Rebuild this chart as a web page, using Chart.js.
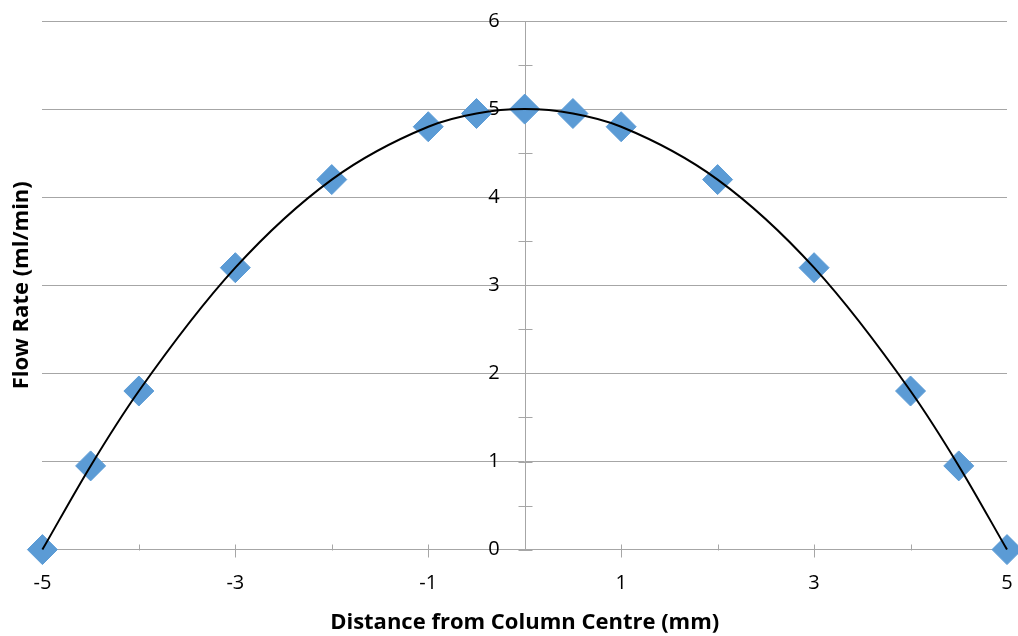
<!DOCTYPE html>
<html>
<head>
<meta charset="utf-8">
<script src="https://cdn.jsdelivr.net/npm/chart.js@4/dist/chart.umd.min.js"></script>
<style>
  html, body { margin: 0; padding: 0; background: #fff; }
  #wrap { width: 1018px; height: 636px; }
</style>
</head>
<body>
<div id="wrap"><canvas id="grafico"></canvas></div>
<script>
// Datos
const distancias = [-5, -4.5, -4, -3, -2, -1, -0.5, 0, 0.5, 1, 2, 3, 4, 4.5, 5];
const caudales = [0, 0.95, 1.8, 3.2, 4.2, 4.8, 4.95, 5, 4.95, 4.8, 4.2, 3.2, 1.8, 0.95, 0];
const ticksX = [-5, -3, -1, 1, 3, 5];
const ticksY = [0, 1, 2, 3, 4, 5, 6];

const puntos = distancias.map((x, i) => ({ x: x, y: caudales[i] }));

const GRIS = "#a6a6a6";
const FUENTE = "'Open Sans', sans-serif";

// Eje central y marcas de los ejes (antes de los datos)
const marcasMenores = {
  id: "marcasMenores",
  beforeDatasetsDraw(chart) {
    const ctx = chart.ctx;
    const sx = chart.scales.x;
    const sy = chart.scales.y;
    ctx.save();
    ctx.strokeStyle = GRIS;
    ctx.lineWidth = 1;
    ctx.beginPath();
    const yBase = Math.round(sy.getPixelForValue(0)) + 0.5;
    // eje x: marcas mayores cruzando, menores hacia arriba
    for (let v = -5; v <= 5; v += 1) {
      const px = Math.round(sx.getPixelForValue(v)) + 0.5;
      const mayor = ticksX.includes(v);
      ctx.moveTo(px, yBase - 6);
      ctx.lineTo(px, mayor ? yBase + 7 : yBase);
    }
    // eje vertical en x = 0
    const x0 = Math.round(sx.getPixelForValue(0)) + 0.5;
    ctx.moveTo(x0, sy.getPixelForValue(6));
    ctx.lineTo(x0, sy.getPixelForValue(0));
    for (let v = 0; v <= 6; v += 0.5) {
      const py = Math.round(sy.getPixelForValue(v)) + 0.5;
      ctx.moveTo(x0 - 7, py);
      ctx.lineTo(x0 + 7, py);
    }
    ctx.stroke();
    ctx.restore();
  },
};

new Chart(document.getElementById("grafico"), {
  type: "scatter",
  data: {
    datasets: [
      {
        label: "Tendencia",
        data: puntos,
        showLine: true,
        tension: 0.4,
        cubicInterpolationMode: "monotone",
        borderColor: "#000",
        borderWidth: 2,
        pointRadius: 0,
        pointHoverRadius: 0,
        fill: false,
        clip: false,
      },
      {
        label: "Caudal",
        data: puntos,
        pointStyle: "rectRot",
        pointRadius: 15,
        pointHoverRadius: 15,
        backgroundColor: "#5b9bd5",
        borderColor: "#5b9bd5",
        borderWidth: 1,
        clip: false,
      },
    ],
  },
  options: {
    responsive: true,
    maintainAspectRatio: false,
    animation: false,
    events: [],
    layout: { autoPadding: false, padding: { left: 9, right: 11, top: 21, bottom: 0 } },
    plugins: {
      legend: { display: false },
      tooltip: { enabled: false },
    },
    scales: {
      x: {
        type: "linear",
        min: -5,
        max: 5,
        afterBuildTicks: (eje) => {
          eje.ticks = ticksX.map((v) => ({ value: v }));
        },
        ticks: {
          font: { family: FUENTE, size: 20 },
          color: "#000",
          padding: 0,
          maxRotation: 0,
        },
        // marcas invisibles: solo separan las etiquetas del eje
        grid: {
          drawOnChartArea: false,
          drawTicks: true,
          tickLength: 22,
          tickColor: "rgba(0,0,0,0)",
        },
        border: { color: GRIS },
        title: {
          display: true,
          text: "Distance from Column Centre (mm)",
          font: { family: FUENTE, size: 22, weight: "bold" },
          color: "#000",
          padding: { top: 14, bottom: 0 },
        },
      },
      y: {
        type: "linear",
        position: "left",
        min: 0,
        max: 6,
        afterBuildTicks: (eje) => {
          eje.ticks = ticksY.map((v) => ({ value: v }));
        },
        ticks: { display: false },
        grid: { color: GRIS, drawTicks: false },
        border: { display: false },
        title: {
          display: true,
          text: "Flow Rate (ml/min)",
          font: { family: FUENTE, size: 22, weight: "bold" },
          color: "#000",
          padding: { top: 0, bottom: 7 },
        },
      },
      // etiquetas del eje central, algo a la izquierda de x = 0
      yCentro: {
        type: "linear",
        position: { x: -0.26 },
        z: 1,
        min: 0,
        max: 6,
        afterBuildTicks: (eje) => {
          eje.ticks = ticksY.map((v) => ({ value: v }));
        },
        ticks: {
          font: { family: FUENTE, size: 20 },
          color: "#000",
          padding: 0,
        },
        grid: { display: false, drawOnChartArea: false, drawTicks: false },
        border: { display: false },
      },
    },
  },
  plugins: [marcasMenores],
});
</script>
</body>
</html>
